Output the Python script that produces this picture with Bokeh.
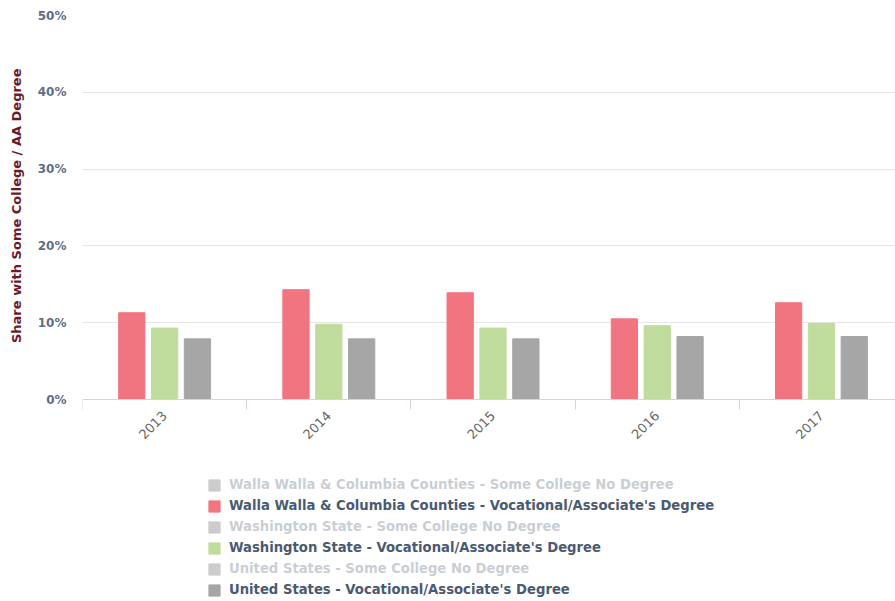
import math
from bokeh.plotting import figure
from bokeh.models import (ColumnDataSource, Range1d, FixedTicker, LinearAxis,
                          Legend, LegendItem, PrintfTickFormatter, Title)
from bokeh.transform import dodge
from bokeh.embed import file_html
from bokeh.resources import INLINE

# ---- data ----
years = ["2013", "2014", "2015", "2016", "2017"]
wwc_vocational = [11.3, 14.3, 13.9, 10.5, 12.6]
wa_vocational = [9.3, 9.8, 9.3, 9.6, 9.9]
us_vocational = [7.9, 7.9, 7.9, 8.2, 8.2]
y_ticks = [0, 10, 20, 30, 40, 50]
y_title = "Share with Some College / AA Degree"
legend_names = [
    "Walla Walla & Columbia Counties - Some College No Degree",
    "Walla Walla & Columbia Counties - Vocational/Associate's Degree",
    "Washington State - Some College No Degree",
    "Washington State - Vocational/Associate's Degree",
    "United States - Some College No Degree",
    "United States - Vocational/Associate's Degree",
]

centers = [i + 0.5 for i in range(len(years))]
boundaries = list(range(len(years) + 1))

src = ColumnDataSource(dict(x=centers, wwc=wwc_vocational, wa=wa_vocational, us=us_vocational))
# hidden series (switched off in the chart): placeholder row with no value
hidden_src = ColumnDataSource(dict(x=[float("nan")], top=[float("nan")]))

FONT = "DejaVu Sans"

# the frame reaches down to the bottom so the legend can sit inside it;
# the x axis is pinned at y = 0
p = figure(width=895, height=600, output_backend="svg", toolbar_location=None,
           x_range=Range1d(0, 4.951), y_range=Range1d(-26.17, 50),
           x_axis_type=None, min_border_left=82, min_border_top=15,
           min_border_right=0, min_border_bottom=0)
p.outline_line_color = None
p.xgrid.grid_line_color = None
p.ygrid.grid_line_color = "#e6e6e6"
p.ygrid.ticker = FixedTicker(ticks=y_ticks)

# y axis
ya = p.yaxis[0]
ya.bounds = (y_ticks[0], y_ticks[-1])
ya.ticker = FixedTicker(ticks=y_ticks)
ya.formatter = PrintfTickFormatter(format="%d%%")
ya.axis_line_color = None
ya.major_tick_line_color = None
ya.minor_tick_line_color = None
ya.major_label_standoff = 10
ya.major_label_text_font = FONT
ya.major_label_text_font_size = "12px"
ya.major_label_text_font_style = "bold"
ya.major_label_text_color = "#5f6e84"

# y axis title, placed alongside the 0-50% span
p.add_layout(Title(text=y_title, align="right", vertical_align="top", offset=53,
                   standoff=17, text_font=FONT, text_font_size="13px",
                   text_font_style="bold", text_color="#6b1a2c"), "left")

# x axis: boundary tick marks
xa1 = LinearAxis(ticker=FixedTicker(ticks=boundaries), fixed_location=0,
                 major_label_overrides={b: "" for b in boundaries},
                 major_label_text_font_size="1px",
                 major_label_standoff=0,
                 axis_line_color="#ccd6eb", major_tick_line_color="#ccd6eb",
                 major_tick_out=10, major_tick_in=0,
                 minor_tick_line_color=None)
p.add_layout(xa1, "below")

# x axis: year labels at category centers
xa2 = LinearAxis(ticker=FixedTicker(ticks=centers), fixed_location=0,
                 major_label_overrides={c: y for c, y in zip(centers, years)},
                 major_label_orientation=math.pi / 4,
                 major_label_standoff=14,
                 major_label_text_font=FONT,
                 major_label_text_font_size="13px",
                 major_label_text_color="#666666",
                 axis_line_color=None, major_tick_line_color=None,
                 major_tick_out=0, major_tick_in=0,
                 minor_tick_line_color=None)
p.add_layout(xa2, "below")

W = 0.16
OFF = 0.2
r_wwc = p.vbar(x=dodge("x", -OFF), top="wwc", width=W, source=src,
               fill_color="#f17580", line_color="#f17580")
r_wa = p.vbar(x=dodge("x", 0), top="wa", width=W, source=src,
              fill_color="#bfdc9d", line_color="#bfdc9d")
r_us = p.vbar(x=dodge("x", OFF), top="us", width=W, source=src,
              fill_color="#a6a6a6", line_color="#a6a6a6")

hidden = []
for _ in range(3):
    r = p.vbar(x="x", top="top", width=W, source=hidden_src, fill_color="#555555",
               line_color="#555555", visible=False)
    hidden.append(r)

renderers = [hidden[0], r_wwc, hidden[1], r_wa, hidden[2], r_us]
legend = Legend(items=[LegendItem(label=n, renderers=[r]) for n, r in zip(legend_names, renderers)],
                location=(125, 0), orientation="vertical", click_policy="hide",
                label_text_font=FONT, label_text_font_size="13.2px",
                label_text_font_style="bold", label_text_color="#4a5a72",
                glyph_width=14, glyph_height=14, label_height=21, spacing=0,
                label_standoff=8, padding=0, margin=0,
                border_line_color=None, background_fill_alpha=0,
                inactive_fill_color="white", inactive_fill_alpha=0.7)
p.add_layout(legend, "center")

open("out.html", "w").write(file_html(p, INLINE))
